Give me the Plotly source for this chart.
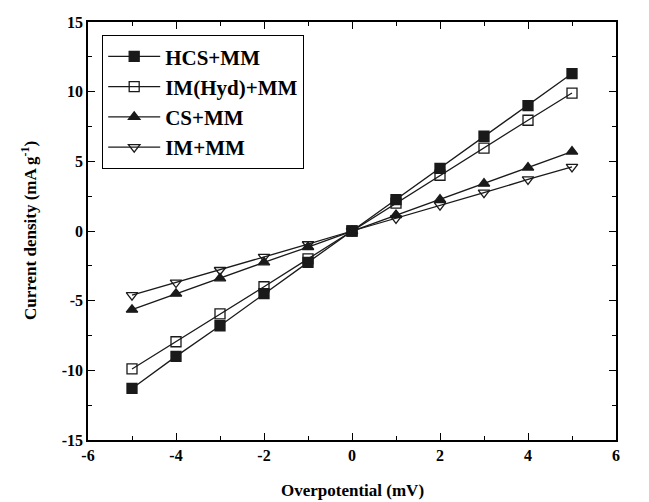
import plotly.graph_objects as go

x = [-5, -4, -3, -2, -1, 0, 1, 2, 3, 4, 5]
hcs_mm = [-11.3, -9.0, -6.8, -4.5, -2.25, 0, 2.25, 4.5, 6.8, 9.0, 11.3]
imhyd_mm = [-9.9, -7.95, -5.95, -4.0, -2.0, 0, 2.0, 4.0, 5.95, 7.95, 9.9]
cs_mm = [-5.65, -4.5, -3.4, -2.25, -1.15, 0, 1.15, 2.25, 3.4, 4.55, 5.7]
im_mm = [-4.6, -3.7, -2.8, -1.85, -0.95, 0, 0.9, 1.85, 2.75, 3.7, 4.6]

x_ticks = [-6, -4, -2, 0, 2, 4, 6]
y_ticks = [-15, -10, -5, 0, 5, 10, 15]

names = ["HCS+MM", "IM(Hyd)+MM", "CS+MM", "IM+MM"]
series = [hcs_mm, imhyd_mm, cs_mm, im_mm]
symbols = ["square", "square-open", "triangle-up", "triangle-down-open"]

fig = go.Figure()
for n, s, sym in zip(names, series, symbols):
    fig.add_trace(go.Scatter(
        x=x, y=s, name="<b>" + n + "</b>", mode="lines+markers",
        line=dict(color="#1a1a1a", width=1.3),
        marker=dict(symbol=sym, size=10, color="#1a1a1a",
                    line=dict(color="#1a1a1a", width=1.3)),
    ))

font = "Liberation Serif, Times New Roman, serif"
axis_common = dict(
    showline=True, linecolor="black", linewidth=1.5, mirror="ticks",
    ticks="inside", ticklen=7, tickwidth=1.3, tickcolor="black",
    showgrid=False, zeroline=False, automargin=False,
    tickfont=dict(family=font, size=16, color="black"),
)
fig.update_xaxes(range=[-6, 6], tickmode="array", tickvals=x_ticks,
                 ticktext=["<b>%d</b>" % v for v in x_ticks],
                 minor=dict(ticks="inside", dtick=1, ticklen=4, tickcolor="black", tickwidth=1.2),
                 **axis_common)
fig.update_yaxes(range=[-15, 15], tickmode="array", tickvals=y_ticks,
                 ticktext=["<b>%d</b>" % v for v in y_ticks],
                 minor=dict(ticks="inside", dtick=2.5, ticklen=4, tickcolor="black", tickwidth=1.2),
                 **axis_common)

fig.add_annotation(text="<b>Overpotential (mV)</b>", xref="paper", yref="paper",
                   x=0.5, y=0, xanchor="center", yanchor="top", yshift=-39,
                   showarrow=False, font=dict(family=font, size=17, color="black"))
fig.add_annotation(text="<b>Current density (mA g<sup>-1</sup>)</b>", xref="paper", yref="paper",
                   x=0, y=0.5, xanchor="center", yanchor="middle", xshift=-59, textangle=-90,
                   showarrow=False, font=dict(family=font, size=17, color="black"))

fig.update_layout(
    width=649, height=502,
    margin=dict(l=88, r=33, t=22, b=62),
    plot_bgcolor="white", paper_bgcolor="white",
    legend=dict(x=0.0265, y=0.969, xanchor="left", yanchor="top",
                bordercolor="black", borderwidth=1.2, bgcolor="white",
                font=dict(family=font, size=21, color="black"),
                itemwidth=52, tracegroupgap=0),
)

fig.write_html("out.html")
